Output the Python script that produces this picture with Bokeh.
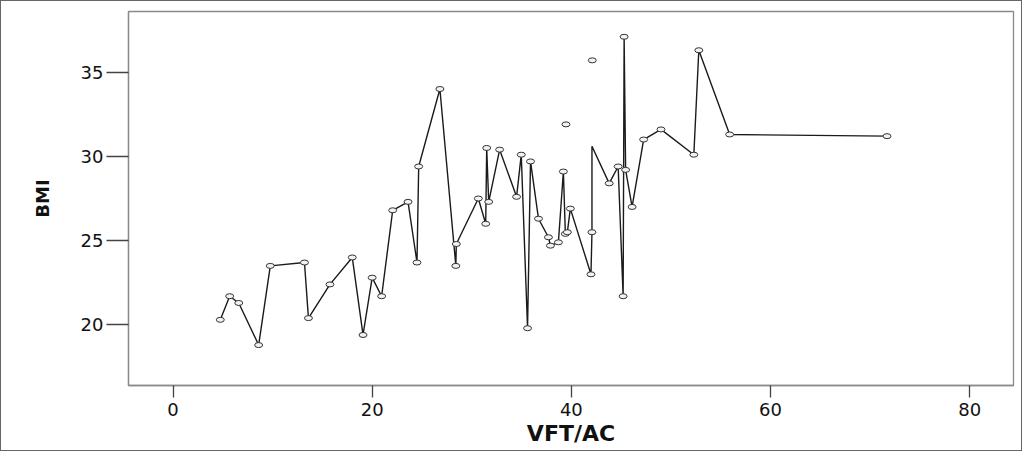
from bokeh.plotting import figure
from bokeh.models import Range1d, FixedTicker, ColumnDataSource
from bokeh.embed import file_html
from bokeh.resources import INLINE

# ---- data ----
line_x = [4.75, 5.69, 6.6, 8.6, 9.77, 13.2, 13.6, 15.76, 18.0, 19.08, 20.0, 20.95,
          22.06, 23.6, 24.5, 24.67, 26.8, 28.4, 28.45, 30.66, 31.4, 31.5, 31.7,
          32.8, 34.5, 34.97, 35.6, 35.9, 36.7, 37.7, 37.9, 38.7, 39.2, 39.4, 39.6,
          39.9, 41.97, 42.07, 42.07, 43.8, 44.7, 45.2, 45.3, 45.45, 46.1, 47.26,
          49.0, 52.3, 52.8, 55.9, 71.7]
line_y = [20.3, 21.7, 21.3, 18.8, 23.5, 23.7, 20.4, 22.4, 24.0, 19.4, 22.8, 21.7,
          26.8, 27.3, 23.7, 29.4, 34.0, 23.5, 24.8, 27.5, 26.0, 30.5, 27.3,
          30.4, 27.6, 30.1, 19.8, 29.7, 26.3, 25.2, 24.7, 24.9, 29.1, 25.4, 25.5,
          26.9, 23.0, 25.5, 30.6, 28.4, 29.4, 21.7, 37.1, 29.2, 27.0, 31.0,
          31.6, 30.1, 36.3, 31.3, 31.2]
# vertices of the line that carry no marker (index into line_x/line_y)
no_marker = [38]
# isolated observations (markers without a connecting line)
iso_x = [39.46, 42.1]
iso_y = [31.9, 35.7]

x_ticks = [0, 20, 40, 60, 80]
y_ticks = [20, 25, 30, 35]
x_label = "VFT/AC"
y_label = "BMI"

mark_x = [v for i, v in enumerate(line_x) if i not in no_marker] + iso_x
mark_y = [v for i, v in enumerate(line_y) if i not in no_marker] + iso_y

p = figure(width=1022, height=451, output_backend="svg", toolbar_location=None,
           x_range=Range1d(-4.47, 84.4), y_range=Range1d(16.40, 38.60),
           min_border_left=127, min_border_right=10, min_border_top=10,
           min_border_bottom=67)
p.styles = {"border": "1px solid #666666"}

p.xgrid.visible = False
p.ygrid.visible = False
p.outline_line_color = "#8a8a8a"
p.outline_line_width = 1.3

p.line(line_x, line_y, line_color="#1a1a1a", line_width=1.4)
src = ColumnDataSource(dict(x=mark_x, y=mark_y))
p.ellipse("x", "y", width=8, height=5, width_units="screen", height_units="screen",
          source=src, fill_color="#f2f2f2", line_color="#333333", line_width=1.0)

for ax in (p.xaxis[0], p.yaxis[0]):
    ax.axis_line_color = "#8a8a8a"
    ax.axis_line_width = 1.3
    ax.major_tick_line_color = "#444444"
    ax.major_tick_line_width = 1.3
    ax.major_tick_in = 0
    ax.minor_tick_line_color = None
    ax.major_label_text_font = "DejaVu Sans"
    ax.major_label_text_font_size = "18px"
    ax.major_label_text_color = "#111111"
    ax.axis_label_text_font = "DejaVu Sans"
    ax.axis_label_text_font_style = "bold"
    ax.axis_label_text_color = "#111111"

p.xaxis.ticker = FixedTicker(ticks=x_ticks)
p.yaxis.ticker = FixedTicker(ticks=y_ticks)
p.xaxis.major_tick_out = 12
p.yaxis.major_tick_out = 22
p.xaxis.major_label_standoff = 5
p.yaxis.major_label_standoff = 3
p.xaxis.axis_label = x_label
p.yaxis.axis_label = y_label
p.xaxis.axis_label_text_font_size = "22px"
p.yaxis.axis_label_text_font_size = "18px"
p.xaxis.axis_label_standoff = 2
p.yaxis.axis_label_standoff = 25

open("out.html", "w").write(file_html(p, INLINE))
